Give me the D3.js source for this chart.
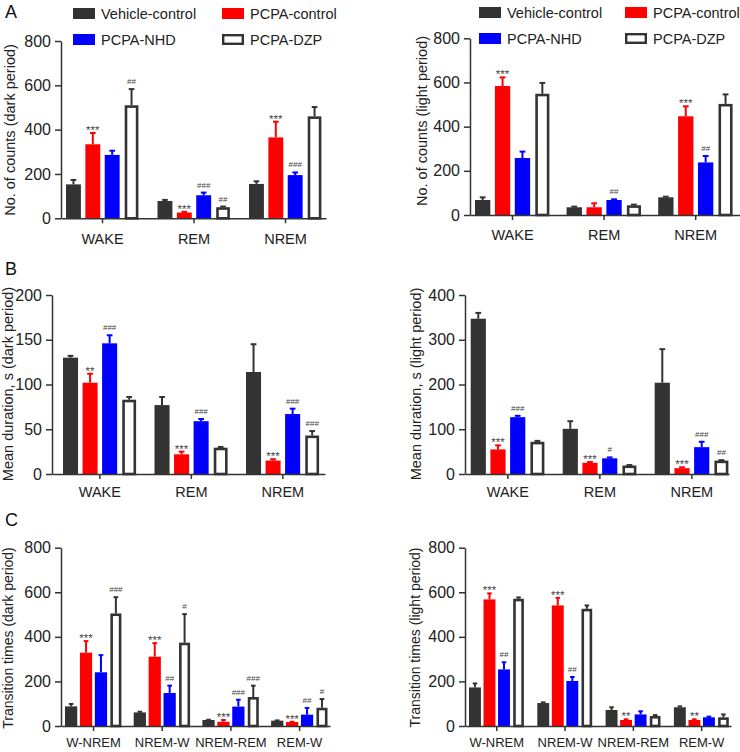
<!DOCTYPE html>
<html>
<head>
<meta charset="utf-8">
<script src="https://cdn.jsdelivr.net/npm/d3@7/dist/d3.min.js"></script>
<style>
  html, body { margin: 0; padding: 0; background: #fff; }
  svg { display: block; font-family: "Liberation Sans", Arial, Helvetica, sans-serif; }
</style>
</head>
<body>
<svg id="chart" width="740" height="752"></svg>
<script>
// ---------- DATA ----------
const groups = ["Vehicle-control", "PCPA-control", "PCPA-NHD", "PCPA-DZP"];
const stateCats = ["WAKE", "REM", "NREM"];
const transCats = ["W-NREM", "NREM-W", "NREM-REM", "REM-W"];

// rows = groups, columns = categories
const countsDarkMean = [[153, 78, 155], [334, 26, 365], [286, 104, 195], [510, 50, 460]];
const countsDarkSem  = [[20, 5, 12], [51, 3, 71], [19, 12, 12], [73, 3, 42]];
const countsDarkSig  = [["", "", ""], ["***", "***", "***"], ["", "###", "###"], ["##", "##", ""]];

const countsLightMean = [[68, 35, 80], [584, 35, 447], [258, 68, 238], [549, 44, 503]];
const countsLightSem  = [[12, 3, 3], [39, 18, 45], [29, 3, 29], [49, 3, 43]];
const countsLightSig  = [["", "", ""], ["***", "", "***"], ["", "##", "##"], ["", "", ""]];

const durDarkMean = [[130, 77, 114], [102, 22, 15], [146, 59, 67], [83, 29.4, 43]];
const durDarkSem  = [[2, 9, 31], [10, 3, 1.5], [9, 2.5, 6], [3, 0.8, 5]];
const durDarkSig  = [["", "", ""], ["**", "***", "***"], ["###", "###", "###"], ["", "", "###"]];

const durLightMean = [[347, 101, 204], [55, 25, 13], [127, 35, 60], [72, 19, 30]];
const durLightSem  = [[13, 17, 75], [9, 2, 2], [3, 2, 12], [2, 1, 1]];
const durLightSig  = [["", "", ""], ["***", "***", "***"], ["###", "#", "###"], ["", "", "##"]];

const transDarkMean = [[88, 61, 27, 24], [329, 311, 19, 18], [241, 148, 87, 51], [505, 374, 130, 82]];
const transDarkSem  = [[11, 3, 1, 1], [52, 61, 8, 1], [77, 33, 31, 30], [73, 128, 51, 39]];
const transDarkSig  = [["", "", "", ""], ["***", "***", "***", "***"], ["", "##", "###", "##"], ["###", "#", "###", "#"]];

const transLightMean = [[173, 103, 72, 84], [568, 541, 27, 27], [254, 202, 52, 39], [571, 526, 45, 39]];
const transLightSem  = [[18, 3, 12, 4], [27, 34, 3, 3], [32, 18, 14, 3], [6, 15, 4, 13]];
const transLightSig  = [["", "", "", ""], ["***", "***", "**", "**"], ["##", "##", "", ""], ["", "", "", ""]];

const countTicks = [0, 200, 400, 600, 800];
const durDarkTicks = [0, 50, 100, 150, 200];
const durLightTicks = [0, 100, 200, 300, 400];

// ---------- STYLE ----------
const fills = ["#333333", "#ff0000", "#0000ff", "#ffffff"];
const strokes = ["#333333", "#ff0000", "#0000ff", "#333333"];
const axisColor = "#333333";

const svg = d3.select("#chart");

function panel(o) {
  const g = svg.append("g");
  const n = o.cats.length;
  const total = o.axisEnd - o.axisX;
  const pi = 1 - o.gw / o.step;
  const po = Math.max(0, (total / o.step - (n - pi)) / 2);
  const outer = total - o.step * (n - pi);
  const align = Math.min(1, Math.max(0, (o.firstBar - o.axisX) / outer));
  const x0 = d3.scaleBand().domain(o.cats).range([o.axisX, o.axisEnd])
    .paddingInner(pi).paddingOuter(po).align(align);
  const x1 = d3.scaleBand().domain(groups).range([0, x0.bandwidth()]).paddingInner(o.barPad);
  const y = d3.scaleLinear().domain([0, o.max]).range([o.y0, o.yTop]);

  // bars
  groups.forEach((grp, gi) => {
    o.mean[gi].forEach((v, ci) => {
      const cx = x0(o.cats[ci]) + x1(grp);
      const bw = x1.bandwidth();
      const cxm = cx + bw / 2;
      const top = y(v + o.sem[gi][ci]);
      const col = strokes[gi];
      // error bar
      g.append("line").attr("x1", cxm).attr("x2", cxm)
        .attr("y1", y(v)).attr("y2", top)
        .attr("stroke", col).attr("stroke-width", 2);
      g.append("line").attr("x1", cxm - bw * 0.19).attr("x2", cxm + bw * 0.19)
        .attr("y1", top).attr("y2", top)
        .attr("stroke", col).attr("stroke-width", 2);
      if (gi === 3) {
        const sw = 2.6;
        g.append("rect").attr("x", cx + sw / 2 + 0.6).attr("y", y(v) + sw / 2)
          .attr("width", bw - sw - 1.2).attr("height", Math.max(0, y(0) - y(v) - sw / 2))
          .attr("fill", "#fff").attr("stroke", col).attr("stroke-width", sw);
      } else {
        g.append("rect").attr("x", cx).attr("y", y(v))
          .attr("width", bw).attr("height", y(0) - y(v))
          .attr("fill", fills[gi]);
      }
      const s = o.sig[gi][ci];
      if (s) {
        const star = s.indexOf("*") >= 0;
        g.append("text").attr("x", cxm).attr("y", star ? top + 1 : top - 5)
          .attr("text-anchor", "middle")
          .attr("font-size", star ? 11.5 : 8)
          .attr("fill", "#444")
          .text(s);
      }
    });
  });

  // y axis
  const ya = g.append("g").attr("transform", `translate(${o.axisX},0)`)
    .call(d3.axisLeft(y).tickValues(o.ticks).tickSize(6).tickPadding(4).tickSizeOuter(0));
  ya.select(".domain").attr("stroke", axisColor).attr("stroke-width", 1.5);
  ya.selectAll(".tick line").attr("stroke", axisColor).attr("stroke-width", 1.5);
  ya.selectAll(".tick text").attr("font-size", o.tickFont).attr("fill", "#222")
    .attr("font-family", "Liberation Sans, Arial, sans-serif");

  // x axis
  const xa = g.append("g").attr("transform", `translate(0,${o.y0})`)
    .call(d3.axisBottom(x0).tickSize(5).tickPadding(o.xPad).tickSizeOuter(0));
  xa.select(".domain").attr("stroke", axisColor).attr("stroke-width", 1.5);
  xa.selectAll(".tick line").attr("stroke", axisColor).attr("stroke-width", 1.5);
  xa.selectAll(".tick text").attr("font-size", o.catFont).attr("fill", "#222")
    .attr("font-family", "Liberation Sans, Arial, sans-serif");

  // y title
  g.append("text")
    .attr("transform", `translate(${o.titleX},${o.titleY}) rotate(-90)`)
    .attr("text-anchor", "middle").attr("font-size", o.titleFont || 14.5).attr("fill", "#222")
    .text(o.title);
}

function legend(x, y, colStep) {
  const g = svg.append("g");
  groups.forEach((grp, i) => {
    const cx = x + (i % 2) * colStep;
    const cy = y + Math.floor(i / 2) * 26;
    if (i === 3) {
      g.append("rect").attr("x", cx + 1.2).attr("y", cy + 1.2).attr("width", 19.6).attr("height", 8.6)
        .attr("fill", "#fff").attr("stroke", "#333").attr("stroke-width", 2.4);
    } else {
      g.append("rect").attr("x", cx).attr("y", cy).attr("width", 22).attr("height", 11)
        .attr("fill", fills[i]);
    }
    g.append("text").attr("x", cx + 28).attr("y", cy + 11).attr("font-size", 14.5)
      .attr("fill", "#222").text(grp);
  });
}

function letter(t, x, y) {
  svg.append("text").attr("x", x).attr("y", y).attr("font-size", 18).attr("fill", "#111").text(t);
}

letter("A", 5, 18);
letter("B", 5, 275);
letter("C", 5, 526);

legend(73, 8, 149);
legend(479, 7, 146);

panel({ cats: stateCats, mean: countsDarkMean, sem: countsDarkSem, sig: countsDarkSig,
  ticks: countTicks, max: 800, axisX: 61, axisEnd: 326, y0: 218.3, yTop: 41,
  firstBar: 66, step: 91.5, gw: 73, barPad: 0.23, tickFont: 16, catFont: 14.5, xPad: 10,
  title: "No. of counts (dark period)", titleX: 15, titleY: 130 });

panel({ cats: stateCats, mean: countsLightMean, sem: countsLightSem, sig: countsLightSig,
  ticks: countTicks, max: 800, axisX: 470, axisEnd: 740, y0: 215, yTop: 38.3,
  firstBar: 475, step: 91.6, gw: 75, barPad: 0.23, tickFont: 16, catFont: 14.5, xPad: 10,
  title: "No. of counts (light period)", titleX: 427, titleY: 121 });

panel({ cats: stateCats, mean: durDarkMean, sem: durDarkSem, sig: durDarkSig,
  ticks: durDarkTicks, max: 200, axisX: 52, axisEnd: 325, y0: 474, yTop: 295,
  firstBar: 63, step: 91.5, gw: 73.7, barPad: 0.23, tickFont: 16, catFont: 14.5, xPad: 8,
  title: "Mean duration, s (dark period)", titleX: 13, titleY: 384 });

panel({ cats: stateCats, mean: durLightMean, sem: durLightSem, sig: durLightSig,
  ticks: durLightTicks, max: 400, axisX: 465, axisEnd: 729, y0: 474, yTop: 295,
  firstBar: 470.7, step: 92, gw: 74.3, barPad: 0.23, tickFont: 16, catFont: 14.5, xPad: 8,
  title: "Mean duration, s (light period)", titleX: 421, titleY: 384 });

panel({ cats: transCats, mean: transDarkMean, sem: transDarkSem, sig: transDarkSig,
  ticks: countTicks, max: 800, axisX: 61, axisEnd: 330, y0: 726, yTop: 547.7,
  firstBar: 65, step: 68.7, gw: 57, barPad: 0.18, tickFont: 16, catFont: 13, xPad: 7,
  title: "Transition times (dark period)", titleX: 12.5, titleY: 638, titleFont: 14 });

panel({ cats: transCats, mean: transLightMean, sem: transLightSem, sig: transLightSig,
  ticks: countTicks, max: 800, axisX: 465, axisEnd: 731, y0: 726, yTop: 547.7,
  firstBar: 469, step: 68.3, gw: 55.5, barPad: 0.18, tickFont: 16, catFont: 13, xPad: 7,
  title: "Transition times (light period)", titleX: 420, titleY: 637.5, titleFont: 14 });
</script>
</body>
</html>
